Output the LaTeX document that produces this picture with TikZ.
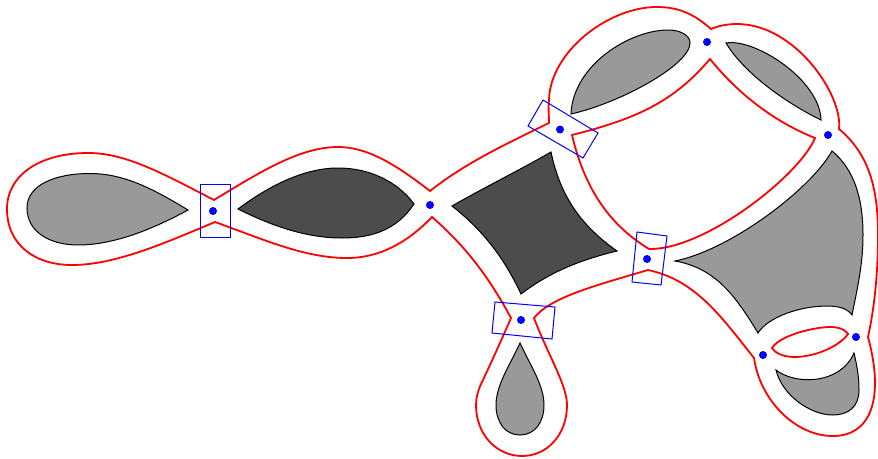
\documentclass[tikz,border=0pt]{standalone}
\begin{document}
\begin{tikzpicture}[x=1pt,y=-1pt,line join=miter,
  redline/.style={draw=red,line width=1.8pt},
  shade1/.style={fill=black!40,draw=black,line width=1pt},
  shade2/.style={fill=black!70,draw=black,line width=1pt},
  bluebox/.style={draw=blue,line width=1pt},
  bluedot/.style={fill=blue,draw=none}]
\useasboundingbox (0,0) rectangle (878,458);
% grey regions
\draw[shade1] (188,210) .. controls (155,190) and (125,173.5) .. (90,173.5) .. controls (55,173.5) and (27,185) .. (27,208) .. controls (27,232) and (50,245) .. (78,245) .. controls (115,245) and (155,228) .. (188,210) -- cycle;
\draw[shade2] (238,209) .. controls (270,185) and (305,168) .. (338,168) .. controls (370,168) and (398,182) .. (414,204) .. controls (398,228) and (375,238) .. (342,238) .. controls (305,238) and (270,225) .. (238,209) -- cycle;
\draw[shade2] (452,206) .. controls (485,187) and (520,170) .. (551,152) .. controls (560,195) and (580,225) .. (617,251) .. controls (580,260) and (550,272) .. (521,294) .. controls (505,260) and (485,232) .. (452,206) -- cycle;
\draw[shade1] (520,343) .. controls (530,365) and (544,385) .. (544,405) .. controls (544,422) and (535,435) .. (520,435) .. controls (505,435) and (496,422) .. (496,405) .. controls (496,385) and (510,365) .. (520,343) -- cycle;
\draw[shade1] (571,114) .. controls (573,65) and (630,30) .. (668,30) .. controls (680,30) and (690,35) .. (690,43) .. controls (690,65) and (620,103) .. (571,114) -- cycle;
\draw[shade1] (726,43) .. controls (755,38) and (820,80) .. (821,120) .. controls (790,105) and (745,75) .. (726,43) -- cycle;
\draw[shade1] (675,261) .. controls (730,250) and (810,190) .. (832,151) .. controls (855,170) and (863,200) .. (863,235) .. controls (863,265) and (857,290) .. (852,315) .. controls (847,308) and (838,306) .. (827,306) .. controls (800,306) and (768,317) .. (758,333) .. controls (735,295) and (715,268) .. (675,261) -- cycle;
\draw[shade1] (776,370) .. controls (795,385) and (840,385) .. (854,353) .. controls (858,370) and (859,380) .. (859,390) .. controls (859,407) and (848,415) .. (833,415) .. controls (810,415) and (782,395) .. (776,370) -- cycle;
% red outline
\draw[redline] (214,200) .. controls (160,172) and (125,153) .. (88,153) .. controls (40,153) and (7,175) .. (7,209) .. controls (7,245) and (35,265) .. (72,265) .. controls (115,265) and (165,243) .. (215,222) .. controls (265,240) and (305,258) .. (347,258) .. controls (380,258) and (408,242) .. (432,217) .. controls (470,250) and (492,283) .. (511,318) .. controls (497,350) and (490,365) .. (482,382) .. controls (478,390) and (476,398) .. (476,405) .. controls (476,435) and (497,456) .. (522,456) .. controls (547,456) and (567,435) .. (567,405) .. controls (567,385) and (548,355) .. (534,318) .. controls (550,298) and (590,287) .. (648,270) .. controls (695,280) and (720,315) .. (754,358) .. controls (760,400) and (795,436) .. (833,436) .. controls (870,436) and (885,400) .. (868,337) .. controls (875,305) and (878,270) .. (878,235) .. controls (878,190) and (870,155) .. (839,129) .. controls (843,95) and (795,24) .. (737,24) .. controls (727,24) and (718,26) .. (711,29) .. controls (695,15) and (680,7) .. (657,7) .. controls (608,7) and (550,52) .. (549,100) .. controls (548,108) and (549,115) .. (549,123) .. controls (510,142) and (465,163) .. (430,191) .. controls (400,168) and (370,147) .. (338,147) .. controls (300,147) and (260,172) .. (214,200) -- cycle;
\draw[redline] (572,135) .. controls (640,118) and (675,100) .. (710,59) .. controls (735,90) and (770,120) .. (815,138) .. controls (800,175) and (705,250) .. (649,249) .. controls (610,225) and (585,190) .. (572,135) -- cycle;
\draw[redline] (772,348) .. controls (780,335) and (815,327) .. (830,327) .. controls (838,327) and (845,329) .. (848,334) .. controls (838,348) and (812,357) .. (795,357) .. controls (783,357) and (775,353) .. (772,348) -- cycle;
% blue marks
\draw[bluebox] (200,184) rectangle (230,237);
\draw[bluebox] (495,302) -- (555,307) -- (552,339) -- (492,333) -- cycle;
\draw[bluebox] (543,100) -- (598,133) -- (583,158) -- (528,126) -- cycle;
\draw[bluebox] (637,232) -- (667,236) -- (661,285) -- (632,282) -- cycle;
\foreach \p/\q in {213/211,430/205,521/320,560/129.5,647/259,707/42,828/135,763/355,856/337}
  \fill[bluedot] (\p,\q) circle[radius=4pt];
\end{tikzpicture}
\end{document}
